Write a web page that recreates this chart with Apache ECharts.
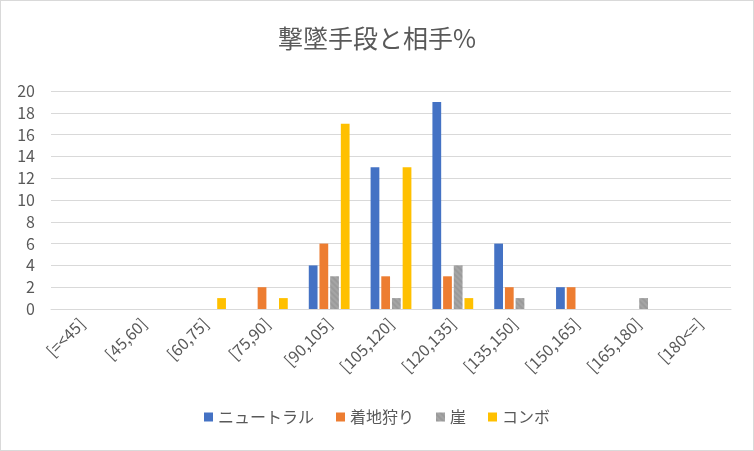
<!DOCTYPE html>
<html>
<head>
<meta charset="utf-8">
<script src="https://cdn.jsdelivr.net/npm/echarts@6/dist/echarts.min.js"></script>
<style>
  html, body { margin: 0; padding: 0; background: #fff; }
  #chart { width: 752px; height: 449px; border: 1px solid #d9d9d9; }
</style>
</head>
<body>
<div id="chart"></div>
<script>
var categories = ["[=<45]", "[45,60]", "[60,75]", "[75,90]", "[90,105]", "[105,120]", "[120,135]", "[135,150]", "[150,165]", "[165,180]", "[180<=]"];
var neutral = [0, 0, 0, 0, 4, 13, 19, 6, 2, 0, 0];
var landing = [0, 0, 0, 2, 6, 3, 3, 2, 2, 0, 0];
var ledge = [0, 0, 0, 0, 3, 1, 4, 1, 0, 1, 0];
var combo = [0, 0, 1, 1, 17, 13, 1, 0, 0, 0, 0];
var yTicks = [0, 20, 2];

var font = "'Noto Sans CJK JP', 'Noto Sans', sans-serif";
var myChart = echarts.init(document.getElementById("chart"));

function bar(name, data, color, decal) {
  var s = {
    name: name,
    type: "bar",
    data: data,
    barGap: "22%",
    barCategoryGap: "34%",
    itemStyle: { color: color }
  };
  if (decal) {
    s.itemStyle.decal = decal;
  }
  return s;
}

var option = {
  animation: false,
  textStyle: { fontFamily: font },
  title: {
    text: "撃墜手段と相手%",
    left: "center",
    top: 20,
    textStyle: { color: "#595959", fontSize: 25, fontWeight: "normal", fontFamily: font }
  },
  legend: {
    bottom: 20,
    itemWidth: 9,
    itemHeight: 9,
    itemGap: 22,
    icon: "rect",
    textStyle: { color: "#595959", fontSize: 16, fontFamily: font }
  },
  grid: { left: 50, right: 22, top: 90, bottom: 141, containLabel: false },
  xAxis: {
    type: "category",
    data: categories,
    axisLine: { show: true, lineStyle: { color: "#d9d9d9" } },
    axisTick: { show: false },
    axisLabel: { rotate: 45, color: "#595959", fontSize: 16, margin: 12 }
  },
  yAxis: {
    type: "value",
    min: yTicks[0],
    max: yTicks[1],
    interval: yTicks[2],
    axisLine: { show: false },
    axisTick: { show: false },
    axisLabel: { color: "#595959", fontSize: 16, margin: 16 },
    splitLine: { lineStyle: { color: "#d9d9d9", width: 1 } }
  },
  series: [
    bar("ニュートラル", neutral, "#4472C4"),
    bar("着地狩り", landing, "#ED7D31"),
    bar("崖", ledge, "#A5A5A5", {
      symbol: "rect",
      symbolSize: 0.6,
      color: "rgba(110,110,110,0.6)",
      dashArrayX: [1, 0],
      dashArrayY: [2, 2],
      rotation: 0.785
    }),
    bar("コンボ", combo, "#FFC000")
  ]
};
myChart.setOption(option);
</script>
</body>
</html>
